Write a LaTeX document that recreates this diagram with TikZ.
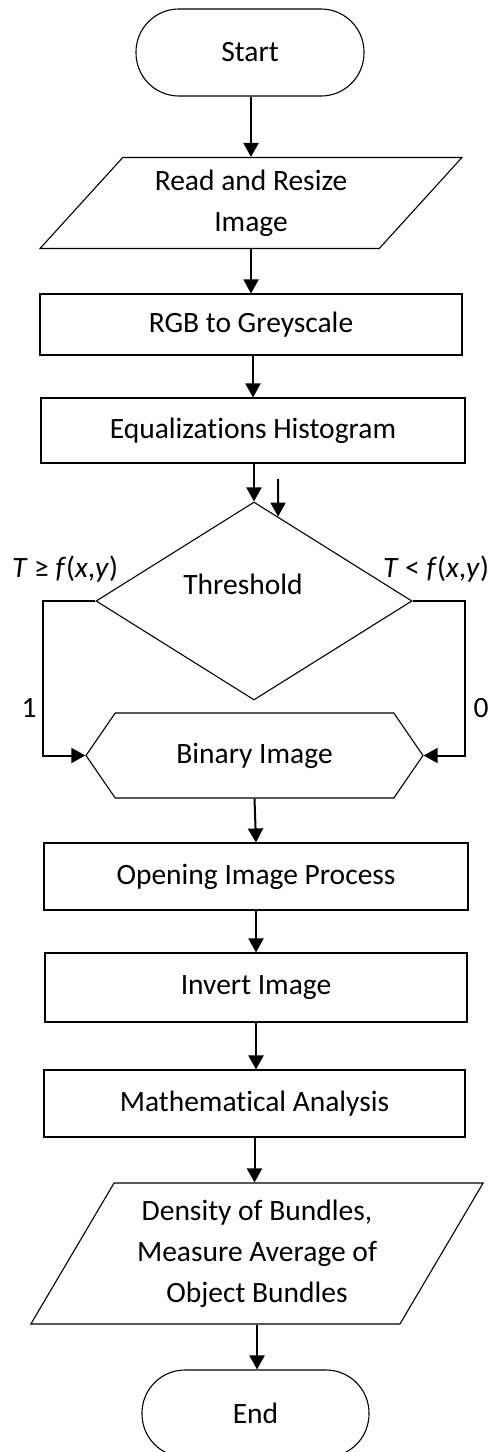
\documentclass[tikz,border=0pt]{standalone}
\usepackage{fontspec}
\setmainfont{Carlito}[Ligatures=NoCommon]
\usetikzlibrary{shapes.geometric,shapes.symbols,arrows.meta,calc}

\begin{document}
\begin{tikzpicture}[x=1pt,y=-1pt,
  every node/.style={font=\fontsize{29.5}{41}\selectfont, inner sep=0pt, text=black},
  outline/.style={draw=black, line width=1.1pt},
  terminal/.style={outline, rectangle, rounded corners=43pt, minimum width=#1, minimum height=87pt},
  process/.style n args={2}{outline, rectangle, minimum width=#1, minimum height=#2},
  io/.style n args={3}{outline, trapezium, trapezium left angle=#1, trapezium right angle=180-#1,
      trapezium stretches=true, minimum width=#2, minimum height=#3, align=center},
  decision/.style={outline, diamond, minimum width=316pt, minimum height=198pt},
  prep/.style={outline, signal, signal to=west and east, signal pointer angle=111,
      minimum width=337pt, minimum height=85pt},
  arr/.style={draw=black, line width=2pt, -{Triangle[length=14pt,width=15pt]}}
]
\useasboundingbox (0,0) rectangle (492,1452);

% main column
\node[terminal=228pt] (start) at (250,52.5) {Start};
\node[io={47}{424pt}{91pt}] (read) at (251,203) {Read and Resize\\Image};
\node[process={422pt}{61pt}] (rgb) at (251,324.5) {RGB to Greyscale};
\node[process={424pt}{65pt}] (eq) at (253,430.5) {Equalizations Histogram};
\node[decision] (thr) at (254,601) {};
\node (thrtext) at (243,584) {Threshold};
\node[prep] (bin) at (254.5,755.5) {Binary Image};
\node[process={424pt}{67pt}] (open) at (256,876.5) {Opening Image Process};
\node[process={422pt}{69pt}] (inv) at (256,987.5) {Invert Image};
\node[process={421pt}{67pt}] (math) at (254.5,1103.5) {Mathematical Analysis};
\node[io={57}{454pt}{141pt}] (dens) at (257,1253.5) {Density of Bundles,\\Measure Average of\\Object Bundles};
\node[terminal=227pt] (end) at (255.5,1413.5) {End};

% threshold conditions and branch values
\node (ge) at (65,569) {\textit{T} ≥ \textit{f}(\textit{x},\textit{y})};
\node (lt) at (436,569) {\textit{T} < \textit{f}(\textit{x},\textit{y})};
\node (one) at (29,708) {1};
\node (zero) at (481,708) {0};

% bends of the two branches and the loose pointer
\coordinate (lbend) at (43,601);
\coordinate (rbend) at (465,601);
\coordinate (extra) at (278,479);

% connectors
\draw[arr] (start.south -| read.north) -- (read.north);
\draw[arr] (read.south) -- (read.south |- rgb.north);
\draw[arr] (rgb.south -| eq.north) -- (eq.north);
\draw[arr] (eq.south -| thr.north) -- (thr.north);
\draw[arr] (extra) -- ($(thr.north)!0.152!(thr.east)$);
\draw[arr] (thr.west) -- (lbend) |- (bin.west);
\draw[arr] (thr.east) -- (rbend) |- (bin.east);
\draw[arr] (bin.south) -- (open.north);
\draw[arr] (open.south) -- (inv.north);
\draw[arr] (inv.south) -- (inv.south |- math.north);
\draw[arr] (math.south) -- (math.south |- dens.north);
\draw[arr] (dens.south) -- (dens.south |- end.north);
\end{tikzpicture}
\end{document}
